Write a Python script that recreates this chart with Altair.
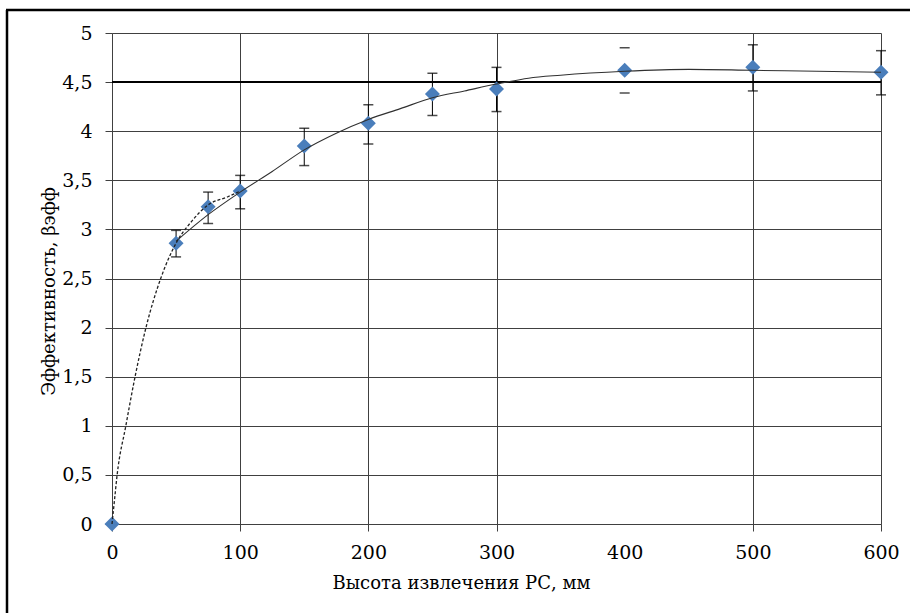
import altair as alt
import pandas as pd

# ---- data ----
height_mm = [0, 50, 75, 100, 150, 200, 250, 300, 400, 500, 600]
efficiency = [0, 2.86, 3.23, 3.39, 3.85, 4.08, 4.38, 4.43, 4.62, 4.65, 4.60]
err_x = [50, 75, 100, 150, 200, 250, 300, 400, 500, 600]
err_hi = [2.99, 3.38, 3.55, 4.03, 4.27, 4.59, 4.65, 4.85, 4.88, 4.82]
err_lo = [2.72, 3.06, 3.21, 3.65, 3.87, 4.16, 4.20, 4.39, 4.41, 4.37]
stem_shown = [True, True, True, True, True, True, True, False, True, True]

# trend line (solid)
trend_x = [50, 75, 100, 125, 150, 175, 200, 225, 250, 275, 300, 325, 350, 400, 450, 500, 550, 600]
trend_y = [2.88, 3.15, 3.38, 3.59, 3.81, 3.98, 4.12, 4.23, 4.34, 4.41, 4.48, 4.54, 4.57, 4.61, 4.63, 4.62, 4.61, 4.60]

# dashed curve
dash_x = [0, 2, 4, 10.8, 18, 26.5, 38, 50, 62, 75, 90, 100]
dash_y = [0, 0.25, 0.5, 1.0, 1.5, 2.0, 2.5, 2.86, 3.08, 3.25, 3.33, 3.39]

x_ticks = [0, 100, 200, 300, 400, 500, 600]
x_hidden_grid = 400
y_ticks = [0, 0.5, 1, 1.5, 2, 2.5, 3, 3.5, 4, 4.5, 5]
ref_level = 4.5

x_title = "Высота извлечения РС, мм"
y_title = "Эффективность, βэфф"

FONT = "DejaVu Serif"
GRID = "#404040"
W, H = 769, 491

pts = pd.DataFrame({"x": height_mm, "y": efficiency})
err = pd.DataFrame({"x": err_x, "lo": err_lo, "hi": err_hi, "stem": stem_shown})
trend = pd.DataFrame({"x": trend_x, "y": trend_y})
dash = pd.DataFrame({"x": dash_x, "y": dash_y})
ref = pd.DataFrame({"y": [ref_level]})
one = pd.DataFrame({"a": [0]})

xs = alt.Scale(domain=[0, 600], nice=False, zero=False)
ys = alt.Scale(domain=[0, 5], nice=False, zero=False)

hide_cond = {"condition": {"test": f"datum.value === {x_hidden_grid}", "value": 0}, "value": 1}

x_axis = alt.Axis(
    values=x_ticks, title=x_title, grid=True, gridColor=GRID, gridWidth=1,
    gridOpacity=hide_cond, tickOpacity=hide_cond,
    tickSize=7, tickColor=GRID, domainColor=GRID, labelFont=FONT, labelFontSize=19,
    labelColor="black", labelPadding=12, titleFont=FONT, titleFontSize=18,
    titleFontWeight="normal", titleColor="black", titleX=349, titleY=64,
    titleBaseline="alphabetic", titleAnchor="middle", labelFlush=False,
)
y_axis = alt.Axis(
    values=y_ticks, title=y_title, grid=True, gridColor=GRID, gridWidth=1,
    tickSize=7, tickColor=GRID, domainColor=GRID, labelFont=FONT, labelFontSize=19,
    labelColor="black", labelPadding=13,
    labelExpr="replace(toString(datum.value), '.', ',')",
    titleFont=FONT, titleFontSize=18, titleFontWeight="normal", titleColor="#000000",
    titleX=-58, titleY=258, titleBaseline="alphabetic", titleAngle=270,
    titleAnchor="middle", labelFlush=False,
)

base_axes = alt.Chart(pts).mark_point(opacity=0).encode(
    x=alt.X("x:Q", scale=xs, axis=x_axis),
    y=alt.Y("y:Q", scale=ys, axis=y_axis),
)

ref_line = alt.Chart(ref).mark_rule(color="black", strokeWidth=2).encode(
    y=alt.Y("y:Q", scale=ys)
)

stems = alt.Chart(err).transform_filter("datum.stem").mark_rule(
    color="black", strokeWidth=1
).encode(x=alt.X("x:Q", scale=xs), y=alt.Y("lo:Q", scale=ys), y2="hi:Q")

caps_hi = alt.Chart(err).mark_tick(
    color="black", orient="horizontal", size=10, thickness=1.5
).encode(x=alt.X("x:Q", scale=xs), y=alt.Y("hi:Q", scale=ys))
caps_lo = alt.Chart(err).mark_tick(
    color="black", orient="horizontal", size=10, thickness=1.5
).encode(x=alt.X("x:Q", scale=xs), y=alt.Y("lo:Q", scale=ys))

diamonds = alt.Chart(pts).mark_point(
    shape="diamond", filled=True, color="#4A7EBB", size=225, opacity=1, strokeWidth=0
).encode(x=alt.X("x:Q", scale=xs), y=alt.Y("y:Q", scale=ys))

trend_line = alt.Chart(trend).mark_line(
    color="#303030", strokeWidth=1.1, interpolate="monotone"
).encode(x=alt.X("x:Q", scale=xs), y=alt.Y("y:Q", scale=ys))

dash_line = alt.Chart(dash).mark_line(
    color="#202020", strokeWidth=1.3, strokeDash=[3, 2], interpolate="monotone"
).encode(x=alt.X("x:Q", scale=xs), y=alt.Y("y:Q", scale=ys))

frame_left = alt.Chart(one).mark_rule(color="black", strokeWidth=2.5).encode(
    x=alt.value(-105), y=alt.value(-23), y2=alt.value(585)
)
frame_top = alt.Chart(one).mark_rule(color="black", strokeWidth=2.5).encode(
    x=alt.value(-106), x2=alt.value(798), y=alt.value(-23)
)

chart = alt.layer(
    base_axes, ref_line, stems, caps_hi, caps_lo, diamonds, trend_line, dash_line,
    frame_left, frame_top,
).properties(
    width=W, height=H,
    autosize=alt.AutoSizeParams(type="none"),
    padding={"left": 112, "top": 33, "right": 29, "bottom": 89},
    background="white",
).configure_view(stroke=None)

chart.save("out.html", embed_options={"renderer": "svg", "actions": False})
